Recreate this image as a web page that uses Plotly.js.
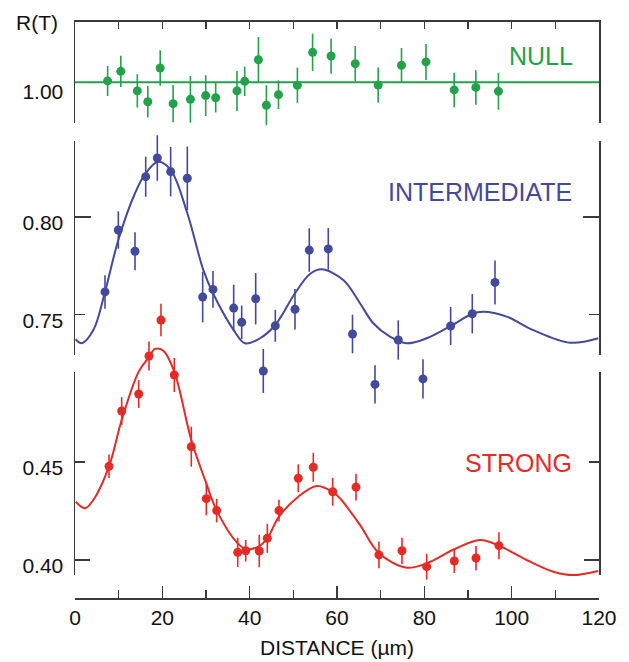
<!DOCTYPE html>
<html>
<head>
<meta charset="utf-8">
<script src="https://cdn.plot.ly/plotly-3.0.1.min.js"></script>
<style>html,body{margin:0;padding:0;background:#fff;}#chart{width:629px;height:662px;}</style>
</head>
<body>
<div id="chart"></div>
<script>
// ---------- data ----------
const nullX = [7.47, 10.49, 14.27, 16.67, 19.51, 22.47, 26.43, 29.93, 32.22, 37.10, 38.86, 42.00, 43.83, 46.60, 50.93, 54.41, 58.65, 64.18, 69.43, 74.77, 80.38, 86.84, 91.80, 96.97];
const nullY = [1.0007, 1.0056, 0.9956, 0.9901, 1.0073, 0.9891, 0.9913, 0.9932, 0.9921, 0.9956, 1.0005, 1.0115, 0.9883, 0.9937, 0.9985, 1.0153, 1.0134, 1.0095, 0.9986, 1.0087, 1.0104, 0.9961, 0.9974, 0.9954];
const nullErr = [0.0077, 0.0080, 0.0085, 0.0080, 0.0090, 0.0095, 0.0119, 0.0104, 0.0075, 0.0102, 0.0075, 0.0116, 0.0102, 0.0073, 0.0090, 0.0095, 0.0090, 0.0090, 0.0090, 0.0088, 0.0092, 0.0088, 0.0088, 0.0094];
const nullFitX = [0, 120];
const nullFitY = [1.00, 1.00];

const interX = [6.87, 9.92, 13.74, 16.19, 18.85, 21.91, 25.72, 29.24, 31.60, 36.34, 38.17, 41.38, 43.12, 45.87, 50.38, 53.65, 58.00, 63.55, 68.70, 74.03, 79.69, 86.03, 90.98, 96.18];
const interY = [0.7615, 0.7933, 0.7824, 0.8207, 0.8303, 0.8233, 0.8199, 0.7589, 0.7628, 0.7532, 0.7459, 0.7580, 0.7209, 0.7441, 0.7526, 0.7830, 0.7836, 0.7399, 0.7140, 0.7368, 0.7168, 0.7440, 0.7503, 0.7664];
const interErr = [0.0086, 0.0096, 0.0098, 0.0103, 0.0117, 0.0127, 0.0163, 0.0130, 0.0094, 0.0120, 0.0086, 0.0132, 0.0113, 0.0082, 0.0104, 0.0112, 0.0107, 0.0099, 0.0098, 0.0101, 0.0101, 0.0098, 0.0101, 0.0113];
const interFitX = [0.15, 1.53, 4.2, 6.87, 9.92, 13.74, 16.19, 19.07, 21.91, 25.72, 29.38, 31.6, 36.34, 38.93, 42.36, 45.87, 50.38, 53.81, 56.49, 61.44, 65.26, 68.31, 72.13, 75.96, 80.53, 86.03, 90.98, 93.5, 98.85, 104.95, 113.35, 119.83];
const interFitY = [0.7372, 0.7351, 0.7419, 0.7615, 0.7882, 0.8122, 0.8225, 0.8284, 0.8242, 0.8019, 0.7728, 0.7608, 0.7419, 0.7351, 0.7377, 0.7445, 0.7608, 0.7707, 0.7731, 0.7676, 0.7557, 0.7454, 0.7385, 0.7351, 0.7377, 0.7440, 0.7503, 0.7513, 0.7488, 0.7419, 0.7354, 0.7377];

const strongX = [7.79, 10.69, 14.59, 16.95, 19.69, 22.74, 26.63, 30.07, 32.45, 37.26, 39.09, 42.20, 44.04, 46.71, 51.13, 54.57, 59.01, 64.35, 69.61, 74.88, 80.54, 86.86, 91.83, 97.09];
const strongY = [0.4478, 0.4760, 0.4847, 0.5041, 0.5224, 0.4944, 0.4578, 0.4313, 0.4252, 0.4039, 0.4047, 0.4046, 0.4111, 0.4252, 0.4417, 0.4473, 0.4348, 0.4372, 0.4026, 0.4047, 0.3966, 0.3995, 0.4010, 0.4073];
const strongErr = [0.0060, 0.0071, 0.0071, 0.0074, 0.0083, 0.0087, 0.0102, 0.0085, 0.0060, 0.0075, 0.0055, 0.0083, 0.0074, 0.0056, 0.0071, 0.0074, 0.0071, 0.0068, 0.0068, 0.0067, 0.0066, 0.0061, 0.0062, 0.0069];
const strongFitX = [0.16, 2.29, 4.19, 7.79, 10.69, 14.59, 16.95, 18.32, 20.22, 22.74, 26.63, 30.07, 32.45, 37.26, 39.32, 42.20, 44.04, 46.71, 51.13, 55.35, 59.01, 60.68, 65.26, 69.61, 75.96, 80.54, 86.86, 92.74, 97.09, 103.43, 109.53, 114.10, 119.83];
const strongFitY = [0.4297, 0.4264, 0.4306, 0.4478, 0.4714, 0.4961, 0.5036, 0.5077, 0.5068, 0.4961, 0.4612, 0.4391, 0.4252, 0.4085, 0.4055, 0.4071, 0.4111, 0.4221, 0.4323, 0.4378, 0.4348, 0.4315, 0.4179, 0.4034, 0.3961, 0.3983, 0.4055, 0.4102, 0.4073, 0.4000, 0.3940, 0.3923, 0.3944];

const xTickVals = [0, 20, 40, 60, 80, 100, 120];
const xTickText = ['0', '20', '40', '60', '80', '100', '120'];
const nullTicks = [1.00], nullTickText = ['1.00'];
const interTicks = [0.75, 0.80], interTickText = ['0.75', '0.80'];
const strongTicks = [0.40, 0.45], strongTickText = ['0.40', '0.45'];

// ---------- styling ----------
const GREEN = '#22a24a', BLUE = '#434a9c', RED = '#e52b26';
const AX = '#3a3a3a';
const FONT = 'Liberation Sans, Arial, Helvetica, sans-serif';

// frame axis domains (paper) and ranges
const frames = {
  strong: {dom: [0.0398, 0.3910], rng: [0.39235, 0.49592]},
  inter:  {dom: [0.4204, 0.7907], rng: [0.72909, 0.83905]},
  nul:    {dom: [0.8218, 1.0],    rng: [0.97923, 1.03179]}
};
function fullRange(f) {
  const span = (f.rng[1] - f.rng[0]) / (f.dom[1] - f.dom[0]);
  const r0 = f.rng[0] - f.dom[0] * span;
  return [r0, r0 + span];
}

function pts(x, y, e, col, ya) {
  return {x: x, y: y, xaxis: 'x', yaxis: ya, type: 'scatter', mode: 'markers',
    marker: {color: col, size: 9}, cliponaxis: false, hoverinfo: 'skip', showlegend: false,
    error_y: {type: 'data', array: e, visible: true, width: 0, thickness: 1.6, color: col}};
}
function fit(x, y, col, ya) {
  return {x: x, y: y, xaxis: 'x', yaxis: ya, type: 'scatter', mode: 'lines',
    line: {color: col, width: 2, shape: 'spline', smoothing: 1}, hoverinfo: 'skip', showlegend: false};
}
function dummy(xa, ya) {
  return {x: [null], y: [null], xaxis: xa, yaxis: ya, type: 'scatter', mode: 'markers', hoverinfo: 'skip', showlegend: false};
}

const data = [
  fit(strongFitX, strongFitY, RED, 'y'),
  fit(interFitX, interFitY, BLUE, 'y2'),
  {x: nullFitX, y: nullFitY, xaxis: 'x', yaxis: 'y3', type: 'scatter', mode: 'lines', line: {color: GREEN, width: 2}, hoverinfo: 'skip', showlegend: false},
  pts(strongX, strongY, strongErr, RED, 'y'),
  pts(interX, interY, interErr, BLUE, 'y2'),
  pts(nullX, nullY, nullErr, GREEN, 'y3'),
  dummy('x', 'y4'), dummy('x', 'y5'), dummy('x', 'y6'), dummy('x', 'y7'), dummy('x', 'y8'), dummy('x2', 'y6')
];

function frameAxis(f, tv, tt, len, extra) {
  return Object.assign({
    domain: f.dom, range: f.rng, anchor: 'x', fixedrange: true,
    showline: true, linecolor: AX, linewidth: 1.5, mirror: 'ticks',
    ticks: 'inside', ticklen: len, tickwidth: 1.5, tickcolor: AX,
    tickmode: 'array', tickvals: tv, ticktext: tt, showgrid: false, zeroline: false,
    tickfont: {family: FONT, size: 21, color: '#111'}, ticklabelshift: 6, ticklabelstandoff: 6
  }, extra || {});
}

const layout = {
  width: 629, height: 662,
  margin: {l: 75, r: 30, t: 20, b: 64},
  paper_bgcolor: '#fff', plot_bgcolor: 'rgba(0,0,0,0)',
  font: {family: FONT, color: '#111'},
  showlegend: false,
  xaxis: {
    range: [0, 120], anchor: 'free', position: 0, fixedrange: true,
    showline: true, linecolor: AX, linewidth: 1.5,
    ticks: 'inside', ticklen: 12, tickwidth: 1.5, tickcolor: AX,
    tickmode: 'array', tickvals: xTickVals, ticktext: xTickText,
    minor: {dtick: 10, tick0: 0, ticks: 'inside', ticklen: 8, tickwidth: 1.5, tickcolor: AX, showgrid: false},
    showgrid: false, zeroline: false,
    tickfont: {family: FONT, size: 21, color: '#111'},
    title: {text: 'DISTANCE (µm)', font: {family: FONT, size: 21, color: '#111'}, standoff: 12}
  },
  xaxis2: {
    range: [0, 120], overlaying: 'x', anchor: 'free', position: 1, side: 'top', fixedrange: true,
    showline: true, linecolor: AX, linewidth: 1.5,
    ticks: 'inside', ticklen: 7, tickwidth: 1.5, tickcolor: AX, dtick: 10, tick0: 0,
    showticklabels: false, showgrid: false, zeroline: false
  },
  // data axes (full height, invisible, same pixel scale as the frame axes)
  yaxis: {domain: [0, 1], range: fullRange(frames.strong), visible: false, anchor: 'x', fixedrange: true},
  yaxis2: {overlaying: 'y', range: fullRange(frames.inter), visible: false, anchor: 'x', fixedrange: true},
  yaxis3: {overlaying: 'y', range: fullRange(frames.nul), visible: false, anchor: 'x', fixedrange: true},
  // frame axes
  yaxis4: frameAxis(frames.strong, strongTicks, strongTickText, 10),
  yaxis5: frameAxis(frames.inter, interTicks, interTickText, 10),
  yaxis6: frameAxis(frames.nul, nullTicks, nullTickText, 0, {ticks: '', ticklabelshift: 9}),
  // longer ticks at 0.80 and 0.40
  yaxis7: frameAxis(frames.inter, [0.80], [''], 16, {overlaying: 'y5', showticklabels: false}),
  yaxis8: frameAxis(frames.strong, [0.40], [''], 15, {overlaying: 'y4', showticklabels: false}),
  annotations: [
    {text: 'NULL', x: 114.5, y: 1.0135, xref: 'x', yref: 'y3', xanchor: 'right', yanchor: 'middle', showarrow: false,
      font: {family: FONT, size: 25, color: GREEN}},
    {text: 'INTERMEDIATE', x: 114.3, y: 0.8130, xref: 'x', yref: 'y2', xanchor: 'right', yanchor: 'middle', showarrow: false,
      font: {family: FONT, size: 25, color: BLUE}},
    {text: 'STRONG', x: 114.3, y: 0.4497, xref: 'x', yref: 'y', xanchor: 'right', yanchor: 'middle', showarrow: false,
      font: {family: FONT, size: 25, color: RED}},
    {text: 'R(T)', x: -0.0725, y: 0.995, xref: 'paper', yref: 'paper', xanchor: 'center', yanchor: 'middle', showarrow: false,
      font: {family: FONT, size: 21, color: '#111'}}
  ]
};

Plotly.newPlot('chart', data, layout, {displayModeBar: false, staticPlot: true});
</script>
</body>
</html>
